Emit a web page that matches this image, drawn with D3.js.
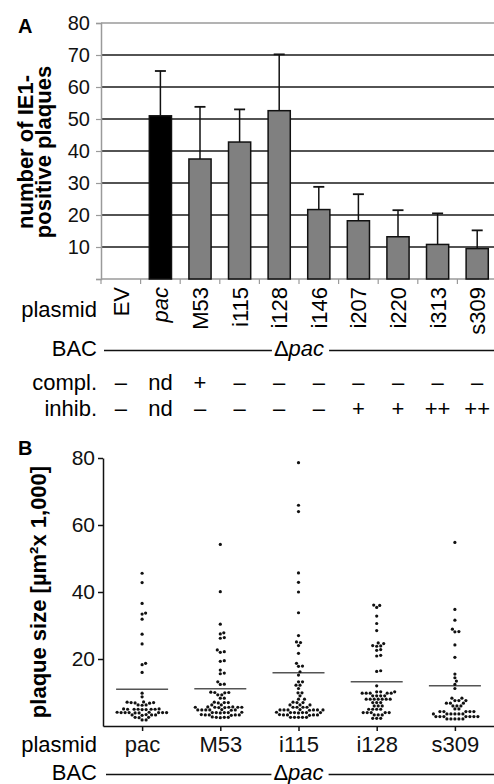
<!DOCTYPE html>
<html><head><meta charset="utf-8">
<script src="https://cdn.jsdelivr.net/npm/d3@7"></script>
<style>
body{margin:0;background:#fff}
svg{display:block;font-family:"Liberation Sans",Arial,Helvetica,sans-serif}
</style>
</head><body>
<svg id="c" width="494" height="784"></svg>
<script>
// ---------- Panel A data ----------
const plasmidsA = ["EV","pac","M53","i115","i128","i146","i207","i220","i313","s309"];
const plaqueCounts = [null,51,37.5,42.8,52.6,21.7,18.2,13.2,10.8,9.5];
const plaqueErrTop = [null,65,53.8,53,70.2,28.8,26.5,21.5,20.5,15.2];
const barColors = ["#808080","#000000","#808080","#808080","#808080","#808080","#808080","#808080","#808080","#808080"];
const complRow = ["–","nd","+","–","–","–","–","–","–","–"];
const inhibRow = ["–","nd","–","–","–","–","+","+","++","++"];
const ticksA = [10,20,30,40,50,60,70,80];

// ---------- Panel B data ----------
const plasmidsB = ["pac","M53","i115","i128","s309"];
const ticksB = [20,40,60,80];
const meansB = [11.0,11.1,15.9,13.2,12.0];
const pacSizes = [45.6,42.8,36.6,33.7,33.4,31.9,27.4,24.5,18.7,18.3,16.0,9.8,8.7,
  7.0,7.1,6.9,7.0,7.2,6.8,6.3,6.3,6.2,
  5.0,5.0,5.1,4.9,5.0,5.0,4.9,5.1,5.0,
  4.0,4.0,4.1,3.9,4.0,4.0,4.1,3.9,4.0,4.0,
  3.3,3.3,3.4,3.2,3.3,2.6,2.6,2.5,1.8,1.8];
const m53Sizes = [54.2,40.1,30.4,27.8,27.5,26.4,26.2,22.7,22.2,22.0,19.5,19.3,16.7,15.8,15.6,13.2,12.5,12.4,
  10.0,10.0,10.1,9.9,9.3,9.3,8.3,8.3,7.0,7.0,7.1,6.9,6.3,6.3,
  5.6,5.6,5.6,5.7,5.5,5.6,5.6,5.7,5.5,
  4.8,4.8,4.8,4.9,4.7,4.8,4.8,
  4.0,4.0,4.0,4.1,3.9,4.0,
  3.3,3.3,3.3,3.2,3.4,3.3,
  2.6,2.6,2.6,2.5,2.7];
const i115Sizes = [78.6,65.9,64.0,45.7,42.9,40.0,33.8,27.0,25.1,24.9,24.0,21.7,18.7,17.9,17.8,16.2,15.2,
  13.2,13.2,12.2,12.2,11.2,9.9,9.9,9.0,8.0,8.0,7.0,7.0,7.1,6.3,6.3,6.3,
  5.6,5.6,5.6,5.6,
  4.8,4.8,4.8,4.8,4.9,4.7,4.8,4.8,
  4.0,4.0,4.0,4.1,3.9,4.0,4.0,
  3.3,3.3,3.3,3.3,3.2,3.4,
  2.6,2.6,2.6,2.6,2.6];
const i128Sizes = [36.1,36.0,35.4,32.8,30.6,28.5,24.8,24.6,24.0,23.9,23.8,22.8,22.6,21.1,20.9,16.5,16.3,12.0,
  10.2,10.2,10.2,9.8,9.8,9.8,9.8,9.8,9.0,9.0,9.0,9.0,
  8.0,8.0,8.0,8.0,8.0,8.0,8.0,7.0,7.0,7.0,6.0,6.0,6.0,
  5.0,5.0,5.0,5.0,4.0,4.0,4.0,4.0,4.0,3.3,3.3,3.3,2.3,2.3,2.3];
const s309Sizes = [54.8,34.8,31.6,28.9,28.2,28.1,24.2,20.5,15.5,14.4,13.4,12.4,11.2,
  8.3,8.3,7.6,7.6,7.6,6.8,6.8,6.8,6.0,6.0,6.0,5.1,5.1,
  4.3,4.3,4.3,4.3,4.3,3.6,3.6,3.6,3.6,3.6,3.6,
  2.8,2.8,2.8,2.8,2.8,2.8,2.8,2.1,2.1,2.1,2.1,2.1];
const sizesB = [pacSizes,m53Sizes,i115Sizes,i128Sizes,s309Sizes];

const svg = d3.select("#c");
const FS = 22;

// ================= PANEL A =================
const A = {left:101, right:497, top:23, bottom:279};
const xA = d3.scaleBand().domain(plasmidsA).range([A.left, A.right]).paddingInner(0.44).paddingOuter(0.22);
const stepA = xA.step();
const yA = d3.scaleLinear().domain([0,80]).range([A.bottom, A.top]);

svg.append("text").attr("x",18).attr("y",33).attr("font-size",20).attr("font-weight","bold").text("A");

// gridlines
svg.append("g").selectAll("line").data(ticksA).join("line")
  .attr("x1",A.left).attr("x2",494).attr("y1",d=>yA(d)).attr("y2",d=>yA(d))
  .attr("stroke",d=>d===80?"#9a9a9a":"#1a1a1a").attr("stroke-width",1.5);

// y axis
const gyA = svg.append("g").attr("transform",`translate(${A.left},0)`)
  .call(d3.axisLeft(yA).tickValues([0].concat(ticksA)).tickSize(5).tickPadding(6).tickFormat(d=>d===0?"":d));
gyA.select(".domain").attr("stroke","#9a9a9a").attr("stroke-width",1.5);
gyA.selectAll(".tick line").attr("stroke","#9a9a9a").attr("stroke-width",1.2);
gyA.selectAll(".tick text").attr("font-size",20).attr("fill","#111").attr("font-family",null);

// x axis baseline with boundary ticks
svg.append("line").attr("x1",A.left).attr("x2",494).attr("y1",A.bottom).attr("y2",A.bottom)
  .attr("stroke","#9a9a9a").attr("stroke-width",1.5);
svg.append("g").selectAll("line").data(plasmidsA).join("line")
  .attr("x1",d=>xA(d)-(stepA-xA.bandwidth())/2).attr("x2",d=>xA(d)-(stepA-xA.bandwidth())/2)
  .attr("y1",A.bottom).attr("y2",A.bottom+5).attr("stroke","#9a9a9a").attr("stroke-width",1.2);

// bars
const barData = plasmidsA.map((p,i)=>({p,v:plaqueCounts[i],e:plaqueErrTop[i],c:barColors[i]})).filter(d=>d.v!==null);
const cxA = d=>xA(d)+xA.bandwidth()/2;
svg.append("g").selectAll("line").data(barData).join("line")
  .attr("x1",d=>cxA(d.p)).attr("x2",d=>cxA(d.p)).attr("y1",d=>yA(d.v)).attr("y2",d=>yA(d.e))
  .attr("stroke","#111").attr("stroke-width",1.5);
svg.append("g").selectAll("line").data(barData).join("line")
  .attr("x1",d=>cxA(d.p)-5.5).attr("x2",d=>cxA(d.p)+5.5).attr("y1",d=>yA(d.e)).attr("y2",d=>yA(d.e))
  .attr("stroke","#111").attr("stroke-width",1.8);
svg.append("g").selectAll("rect").data(barData).join("rect")
  .attr("x",d=>xA(d.p)).attr("width",xA.bandwidth())
  .attr("y",d=>yA(d.v)).attr("height",d=>yA(0)-yA(d.v))
  .attr("fill",d=>d.c).attr("stroke","#111").attr("stroke-width",1.5);

// y title
const ttA = svg.append("text").attr("transform",`translate(0,${(A.top+A.bottom)/2+1}) rotate(-90)`)
  .attr("text-anchor","middle").attr("font-size",FS).attr("font-weight","bold");
ttA.append("tspan").attr("x",0).attr("y",33).text("number of IE1-");
ttA.append("tspan").attr("x",0).attr("y",51).text("positive plaques");

// rotated category labels
svg.append("g").selectAll("text").data(plasmidsA).join("text")
  .attr("transform",d=>`translate(${cxA(d)+8},${A.bottom+8}) rotate(-90)`)
  .attr("text-anchor","end").attr("font-size",FS).attr("font-style",d=>d==="pac"?"italic":null).text(d=>d);
svg.append("text").attr("x",97).attr("y",317).attr("text-anchor","end").attr("font-size",FS).text("plasmid");

function bacRow(y, x0, x1, cx){
  svg.append("text").attr("x",97).attr("y",y).attr("text-anchor","end").attr("font-size",FS).text("BAC");
  const t = svg.append("text").attr("x",cx).attr("y",y).attr("text-anchor","middle").attr("font-size",FS);
  t.append("tspan").text("Δ");
  t.append("tspan").attr("font-style","italic").text("pac");
  const w = t.node().getComputedTextLength();
  svg.append("line").attr("x1",x0).attr("x2",cx-w/2-2).attr("y1",y-5.5).attr("y2",y-5.5).attr("stroke","#111").attr("stroke-width",1.5);
  svg.append("line").attr("x1",cx+w/2+5).attr("x2",x1).attr("y1",y-5.5).attr("y2",y-5.5).attr("stroke","#111").attr("stroke-width",1.5);
}
bacRow(356, 104, 494, (cxA(plasmidsA[0])+cxA(plasmidsA[9]))/2);

svg.append("text").attr("x",97).attr("y",390).attr("text-anchor","end").attr("font-size",FS).text("compl.");
svg.append("text").attr("x",97).attr("y",416).attr("text-anchor","end").attr("font-size",FS).text("inhib.");
svg.append("g").selectAll("text").data(complRow).join("text")
  .attr("x",(d,i)=>cxA(plasmidsA[i])).attr("y",390).attr("text-anchor","middle").attr("font-size",FS).text(d=>d);
svg.append("g").selectAll("text").data(inhibRow).join("text")
  .attr("x",(d,i)=>cxA(plasmidsA[i])).attr("y",416).attr("text-anchor","middle").attr("font-size",FS).text(d=>d);

// ================= PANEL B =================
const B = {left:103, right:494, top:458, bottom:726};
const xB = d3.scalePoint().domain(plasmidsB).range([B.left, B.right]).padding(0.5);
const yB = d3.scaleLinear().domain([0,80]).range([B.bottom, B.top]);

svg.append("text").attr("x",18).attr("y",455).attr("font-size",20).attr("font-weight","bold").text("B");

const gyB = svg.append("g").attr("transform",`translate(${B.left},0)`)
  .call(d3.axisLeft(yB).tickValues(ticksB).tickSize(5).tickPadding(3).tickSizeOuter(0));
gyB.select(".domain").attr("stroke","#111").attr("stroke-width",1.5);
gyB.selectAll(".tick line").attr("stroke","#111").attr("stroke-width",1.5);
gyB.selectAll(".tick text").attr("font-size",21).attr("fill","#111").attr("font-family",null);

const gxB = svg.append("g").attr("transform",`translate(0,${B.bottom})`)
  .call(d3.axisBottom(xB).tickSize(5).tickSizeOuter(0).tickPadding(9));
gxB.select(".domain").attr("stroke","#111").attr("stroke-width",1.5);
gxB.selectAll(".tick line").attr("stroke","#111").attr("stroke-width",1.5);
gxB.selectAll(".tick text").attr("font-size",FS).attr("fill","#111").attr("font-family",null)
  .attr("dy",null).attr("y",26);

svg.append("text").attr("transform",`translate(46,${(B.top+B.bottom)/2}) rotate(-90)`)
  .attr("text-anchor","middle").attr("font-size",FS).attr("font-weight","bold")
  .text("plaque size [µm²x 1,000]");

svg.append("text").attr("x",97).attr("y",752).attr("text-anchor","end").attr("font-size",FS).text("plasmid");
bacRow(780, 106, 494, (xB(plasmidsB[0])+xB(plasmidsB[4]))/2);

// mean lines
svg.append("g").selectAll("line").data(meansB).join("line")
  .attr("x1",(d,i)=>xB(plasmidsB[i])-26).attr("x2",(d,i)=>xB(plasmidsB[i])+26)
  .attr("y1",d=>yB(d)).attr("y2",d=>yB(d)).attr("stroke","#555").attr("stroke-width",1.5);

// beeswarm dots
function swarm(values, cx){
  const D = 3.6;
  const pts = values.map(v=>({v,y:yB(v)})).sort((a,b)=>b.y-a.y);
  const placed = [];
  for(const p of pts){
    for(let k=0;k<400;k++){
      const off = (k%2?1:-1)*Math.ceil(k/2)*0.5;
      const x = cx+off;
      if(placed.every(q=>(q.x-x)**2+(q.y-p.y)**2 >= D*D)){ p.x=x; break; }
    }
    placed.push(p);
  }
  return placed;
}
sizesB.forEach((vals,i)=>{
  const pts = swarm(vals, xB(plasmidsB[i]));
  svg.append("g").selectAll("circle").data(pts).join("circle")
    .attr("cx",d=>d.x).attr("cy",d=>d.y).attr("r",1.6).attr("fill","#111");
});
</script>
</body></html>
